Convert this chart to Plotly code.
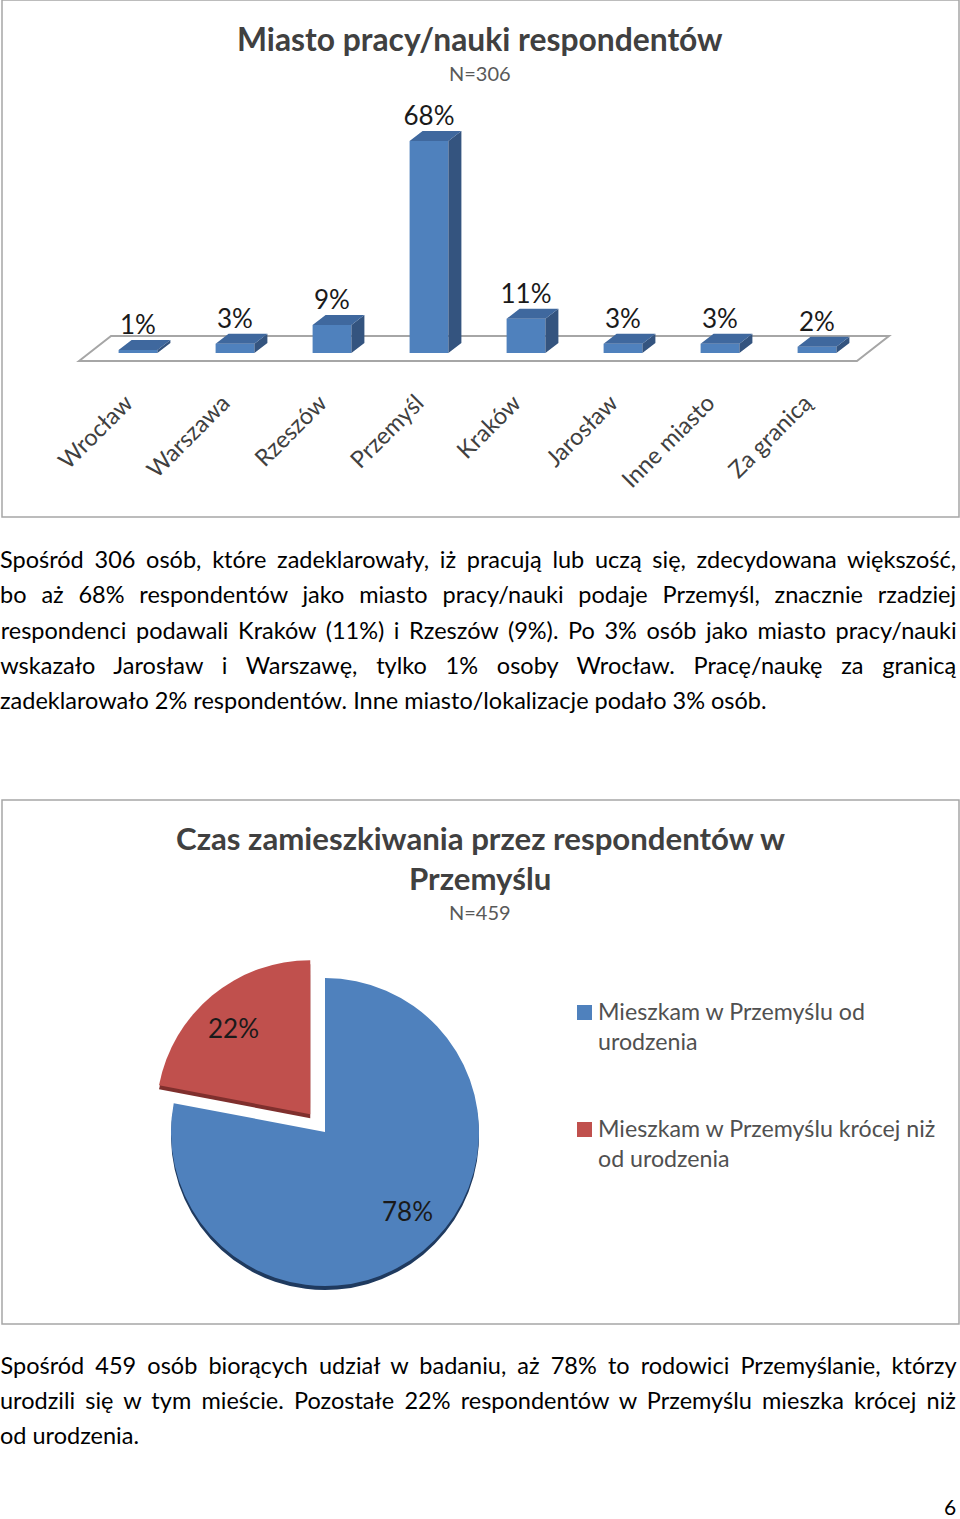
import json
import plotly.graph_objects as go

W, H = 960, 1519
FONT = "Lato"

cities = ["Wrocław", "Warszawa", "Rzeszów", "Przemyśl", "Kraków", "Jarosław", "Inne miasto", "Za granicą"]
city_pct = [1, 3, 9, 68, 11, 3, 3, 2]
pie_labels = ["Mieszkam w Przemyślu od urodzenia", "Mieszkam w Przemyślu krócej niż od urodzenia"]
pie_pct = [78, 22]

paragraph1 = [
    "Spośród 306 osób, które zadeklarowały, iż pracują lub uczą się, zdecydowana większość,",
    "bo aż 68% respondentów jako miasto pracy/nauki podaje Przemyśl, znacznie rzadziej",
    "respondenci podawali Kraków (11%) i Rzeszów (9%). Po 3% osób jako miasto pracy/nauki",
    "wskazało Jarosław i Warszawę, tylko 1% osoby Wrocław. Pracę/naukę za granicą",
]
paragraph1_last = "zadeklarowało 2% respondentów. Inne miasto/lokalizacje podało 3% osób."
paragraph2 = [
    "Spośród 459 osób biorących udział w badaniu, aż 78% to rodowici Przemyślanie, którzy",
    "urodzili się w tym mieście. Pozostałe 22% respondentów w Przemyślu mieszka krócej niż",
]
paragraph2_last = "od urodzenia."


def px(x):
    return x / W


def py(y):
    return 1 - y / H


BAR_W = 0.4
DX = 0.134
DY = 3.2

fig = go.Figure()

fig.add_trace(go.Bar(
    x=list(range(len(cities))), y=city_pct, width=BAR_W,
    marker=dict(color="#4f81bd", line=dict(width=0)), hoverinfo="skip", showlegend=False))

side_x, side_y, top_x, top_y = [], [], [], []
for i, v in enumerate(city_pct):
    l, r = i - BAR_W / 2, i + BAR_W / 2
    side_x += [r, r + DX, r + DX, r, r, None]
    side_y += [0, DY, v + DY, v, 0, None]
    top_x += [l, l + DX, r + DX, r, l, None]
    top_y += [v, v + DY, v + DY, v, v, None]
fig.add_trace(go.Scatter(x=side_x, y=side_y, mode="lines", fill="toself", fillcolor="#34547f",
                         line=dict(width=0), hoverinfo="skip", showlegend=False))
fig.add_trace(go.Scatter(x=top_x, y=top_y, mode="lines", fill="toself", fillcolor="#3f689e",
                         line=dict(width=0), hoverinfo="skip", showlegend=False))
fig.add_trace(go.Scatter(
    x=list(range(len(cities))), y=[v + DY - 0.3 for v in city_pct], mode="text",
    text=[f"{v}%" for v in city_pct], textposition="top center",
    textfont=dict(family=FONT, size=26, color="#1a1a1a"), hoverinfo="skip", showlegend=False))

# pie: dark copy behind gives the rim
PIE_CX, PIE_CY, PIE_R = 325, 1132, 154
PULL = [0, 0.15]
PIE_HALF = PIE_R * (1 + max(PULL))
for off, colors in ((4, ["#1f3a5f", "#7f2f2d"]), (0, ["#4f81bd", "#c0504d"])):
    fig.add_trace(go.Pie(
        values=pie_pct, labels=pie_labels, sort=False, direction="clockwise", rotation=0,
        pull=PULL, textinfo="none", hoverinfo="skip", showlegend=False,
        marker=dict(colors=colors, line=dict(width=0)),
        domain=dict(x=[px(PIE_CX - PIE_HALF), px(PIE_CX + PIE_HALF)],
                    y=[py(PIE_CY + off + PIE_HALF), py(PIE_CY + off - PIE_HALF)])))

ann = []


def text(s, x, y, size, color="#000000", bold=False, anchor="center"):
    ann.append(dict(text=f"<b>{s}</b>" if bold else s, x=px(x), y=py(y), xref="paper", yref="paper",
                    xanchor=anchor, yanchor="middle", showarrow=False, align=anchor,
                    font=dict(family=FONT, size=size, color=color), borderpad=0, borderwidth=0))


TITLE = "#404040"
text("Miasto pracy/nauki respondentów", 480, 39, 31.8, TITLE, True)
text("N=306", 480, 73, 20, "#595959")
text("Czas zamieszkiwania przez respondentów w", 480, 838, 31.2, TITLE, True)
text("Przemyślu", 480, 878, 31.2, TITLE, True)
text("N=459", 480, 912, 20, "#595959")

text(f"{pie_pct[1]}%", 233, 1028, 26, "#1a1a1a")
text(f"{pie_pct[0]}%", 407, 1211, 26, "#1a1a1a")

LEG = "#505050"
text("Mieszkam w Przemyślu od", 598, 1011, 23.2, LEG, anchor="left")
text("urodzenia", 598, 1041, 23.2, LEG, anchor="left")
text("Mieszkam w Przemyślu krócej niż", 598, 1128, 23.2, LEG, anchor="left")
text("od urodzenia", 598, 1158, 23.2, LEG, anchor="left")

BODY = 23.5
for s, y in zip(paragraph1, [559, 594, 630, 665]):
    text(s, 478, y, BODY)
text(paragraph1_last, 0, 700, BODY, anchor="left")
for s, y in zip(paragraph2, [1365, 1400]):
    text(s, 478, y, BODY)
text(paragraph2_last, 0, 1435, BODY, anchor="left")
text("6", 950, 1506, 21)

frame = dict(color="#a6a6a6", width=1.5)
shapes = [
    dict(type="rect", xref="paper", yref="paper", x0=px(2), x1=px(959), y0=py(517), y1=py(0), line=frame),
    dict(type="rect", xref="paper", yref="paper", x0=px(2), x1=px(959), y0=py(1324), y1=py(800), line=frame),
    dict(type="path", xref="x", yref="y", layer="below",
         path="M -0.608 -2.57 L -0.278 5.45 L 7.742 5.45 L 7.412 -2.57 Z",
         line=dict(color="#a6a6a6", width=2)),
    dict(type="rect", xref="paper", yref="paper", x0=px(577), x1=px(592), y0=py(1020), y1=py(1005),
         fillcolor="#4f81bd", line=dict(width=0)),
    dict(type="rect", xref="paper", yref="paper", x0=px(577), x1=px(592), y0=py(1137), y1=py(1122),
         fillcolor="#c0504d", line=dict(width=0)),
]

fig.update_layout(
    width=W, height=H, margin=dict(l=0, r=0, t=0, b=0, autoexpand=False), paper_bgcolor="white",
    plot_bgcolor="rgba(0,0,0,0)", showlegend=False, annotations=ann, shapes=shapes,
    xaxis=dict(domain=[px(60.4), px(904.3)], range=[-0.8, 7.9], tickmode="array", automargin=False,
               tickvals=list(range(len(cities))), ticktext=cities, tickangle=-45, showgrid=False,
               zeroline=False, showline=False, ticks="", ticklabelstandoff=15, ticklabelshift=-12,
               tickfont=dict(family=FONT, size=23.5, color="#404040")),
    yaxis=dict(domain=[py(368.6), py(88)], range=[-5, 85], visible=False, automargin=False),
)

justified = paragraph1 + paragraph2
script = """
document.body.style.margin = '0';
var lines = %s;
document.querySelectorAll('text.annotation-text').forEach(function (t) {
  var s = t.textContent;
  if (lines.indexOf(s) >= 0) {
    var gaps = s.split(' ').length - 1;
    t.style.wordSpacing = ((956 - t.getComputedTextLength()) / gaps) + 'px';
  }
});
""" % json.dumps(justified, ensure_ascii=False)

fig.write_html("out.html", post_script=script, config={"displayModeBar": False, "responsive": False})
